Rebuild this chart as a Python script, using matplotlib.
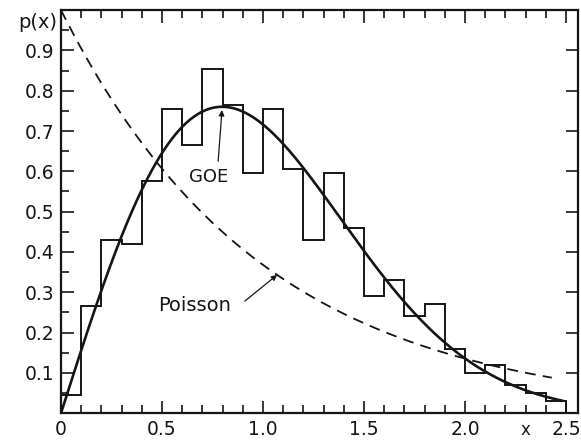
import numpy as np
import matplotlib.pyplot as plt
from matplotlib.ticker import MultipleLocator, FixedLocator

# histogram of nearest-neighbour spacings (bin width 0.1)
bin_edges = np.round(np.arange(0, 2.51, 0.1), 2)
counts = [0.045, 0.265, 0.43, 0.42, 0.575, 0.755, 0.665, 0.855, 0.765, 0.595,
          0.755, 0.605, 0.43, 0.595, 0.46, 0.29, 0.33, 0.24, 0.27, 0.16,
          0.10, 0.12, 0.07, 0.05, 0.03]

x_ticks = [0, 0.5, 1.0, 1.5, 2.0, 2.5]
x_labels = ["0", "0.5", "1.0", "1.5", "2.0", "2.5"]
y_ticks = [0.1, 0.2, 0.3, 0.4, 0.5, 0.6, 0.7, 0.8, 0.9]
y_labels = ["0.1", "0.2", "0.3", "0.4", "0.5", "0.6", "0.7", "0.8", "0.9"]

ink = "#151515"
plt.rcParams['font.family'] = ['DejaVu Sans']

fig = plt.figure(figsize=(5.81, 4.40), dpi=100)
ax = fig.add_axes([0.105, 0.061, 0.89, 0.916])

# histogram
ax.stairs(counts, bin_edges, color=ink, lw=1.4, baseline=0)

# Wigner surmise (GOE) and Poisson
xs = np.linspace(0, 2.48, 400)
goe = np.pi / 2 * xs * np.exp(-np.pi * xs ** 2 / 4)
ax.plot(xs, goe, color=ink, lw=1.9)
xp = np.linspace(0, 2.43, 400)
ax.plot(xp, np.exp(-xp), color=ink, lw=1.3, ls=(0, (6, 4)))

# curve labels, each with a pointer onto its curve
arrow = dict(arrowstyle="-|>", color=ink, lw=0.9, mutation_scale=8,
             shrinkA=0, shrinkB=0)
ax.text(0.73, 0.585, "GOE", ha="center", va="center", fontsize=13, color=ink)
ax.annotate("", xy=(0.797, 0.752), xytext=(0.778, 0.625), arrowprops=arrow)
ax.text(0.66, 0.268, "Poisson", ha="center", va="center", fontsize=14, color=ink)
ax.annotate("", xy=(1.07, np.exp(-1.07)), xytext=(0.91, 0.278), arrowprops=arrow)

ax.set_xlim(0, 2.56)
ax.set_ylim(0, 1.0)

ax.xaxis.set_major_locator(FixedLocator(x_ticks))
ax.set_xticklabels(x_labels)
ax.xaxis.set_minor_locator(MultipleLocator(0.1))
ax.yaxis.set_major_locator(FixedLocator(y_ticks))
ax.set_yticklabels(y_labels)
ax.yaxis.set_minor_locator(MultipleLocator(0.05))

ax.tick_params(which="both", direction="in", top=True, right=True,
               color=ink, labelcolor=ink, labelsize=13.5, width=1.2)
ax.tick_params(which="major", length=9, pad=5)
ax.tick_params(which="minor", length=6)
ax.tick_params(axis="y", which="minor", right=False)
for side in ax.spines.values():
    side.set_linewidth(1.6)
    side.set_color(ink)

ax.text(-0.114, 0.97, "p(x)", ha="center", va="center", fontsize=14,
        color=ink, clip_on=False)
fig.text(525 / 581, 1 / 440, "x", ha="center", va="bottom", fontsize=12,
         color=ink)

fig.savefig("out.png", dpi=100)
